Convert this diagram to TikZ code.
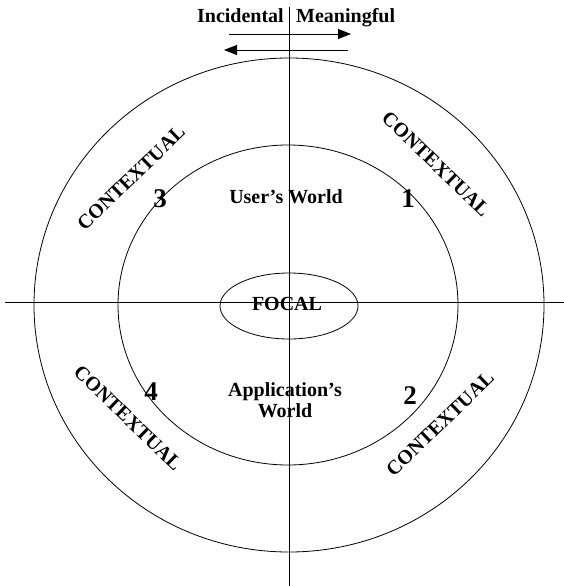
\documentclass[tikz,border=0pt]{standalone}
\usepackage{fontspec}
\setmainfont{Liberation Serif}
\usetikzlibrary{shapes.geometric, arrows.meta, positioning}

\begin{document}
\begin{tikzpicture}[
    x=1pt, y=-1pt,
    ring/.style={ellipse, draw, line width=0.8pt, inner sep=0pt},
    axis/.style={line width=0.8pt},
    arrow/.style={-{Triangle[length=13pt,width=10pt]}, line width=0.8pt},
    label/.style={font=\fontsize{20}{21}\selectfont\bfseries, inner sep=0pt, align=center},
    num/.style={font=\fontsize{27}{28}\selectfont\bfseries, inner sep=0pt}
]
\useasboundingbox (0,0) rectangle (564,586);

% Axes
\coordinate (top) at (289,7);
\coordinate (bottom) at (289,586);
\coordinate (left) at (5,302);
\coordinate (right) at (564,302);
\draw[axis] (top) -- (bottom);
\draw[axis] (left) -- (right);

% Rings
\node[ring, minimum width=510pt, minimum height=494pt] (outer) at (289,305) {};
\node[ring, minimum width=340pt, minimum height=320pt] (inner) at (288,305) {};
\node[ring, minimum width=138pt, minimum height=66pt] (focal) at (289,306) {};
\node[label, anchor=base] (focaltxt) at (287,310) {FOCAL};

% Scale on top
\node[label, anchor=base east] (incid) at (284,23) {Incidental};
\node[label, anchor=base west] (mean) at ([xshift=12pt]incid.base east) {Meaningful};
\coordinate (upA) at (229,34);
\coordinate (upB) at (351,34);
\coordinate (loA) at (348,50);
\coordinate (loB) at (224,50);
\draw[arrow] (upA) -- (upB);
\draw[arrow] (loA) -- (loB);

% Worlds
\node[label, anchor=base] (user) at (286,203) {User's World};
\node[label] (app) at (285,400) {Application's\\World};

% Quadrant numbers
\node[num] (q1) at (408,199) {1};
\node[num] (q2) at (410,396) {2};
\node[num] (q3) at (160,199) {3};
\node[num] (q4) at (151,392) {4};

% Contextual bands
\node[label, rotate=44] (ctxUL) at (131,178) {CONTEXTUAL};
\node[label, rotate=-44] (ctxUR) at (436,164) {CONTEXTUAL};
\node[label, rotate=-44] (ctxLL) at (128,418) {CONTEXTUAL};
\node[label, rotate=44] (ctxLR) at (440,424) {CONTEXTUAL};

\end{tikzpicture}
\end{document}
